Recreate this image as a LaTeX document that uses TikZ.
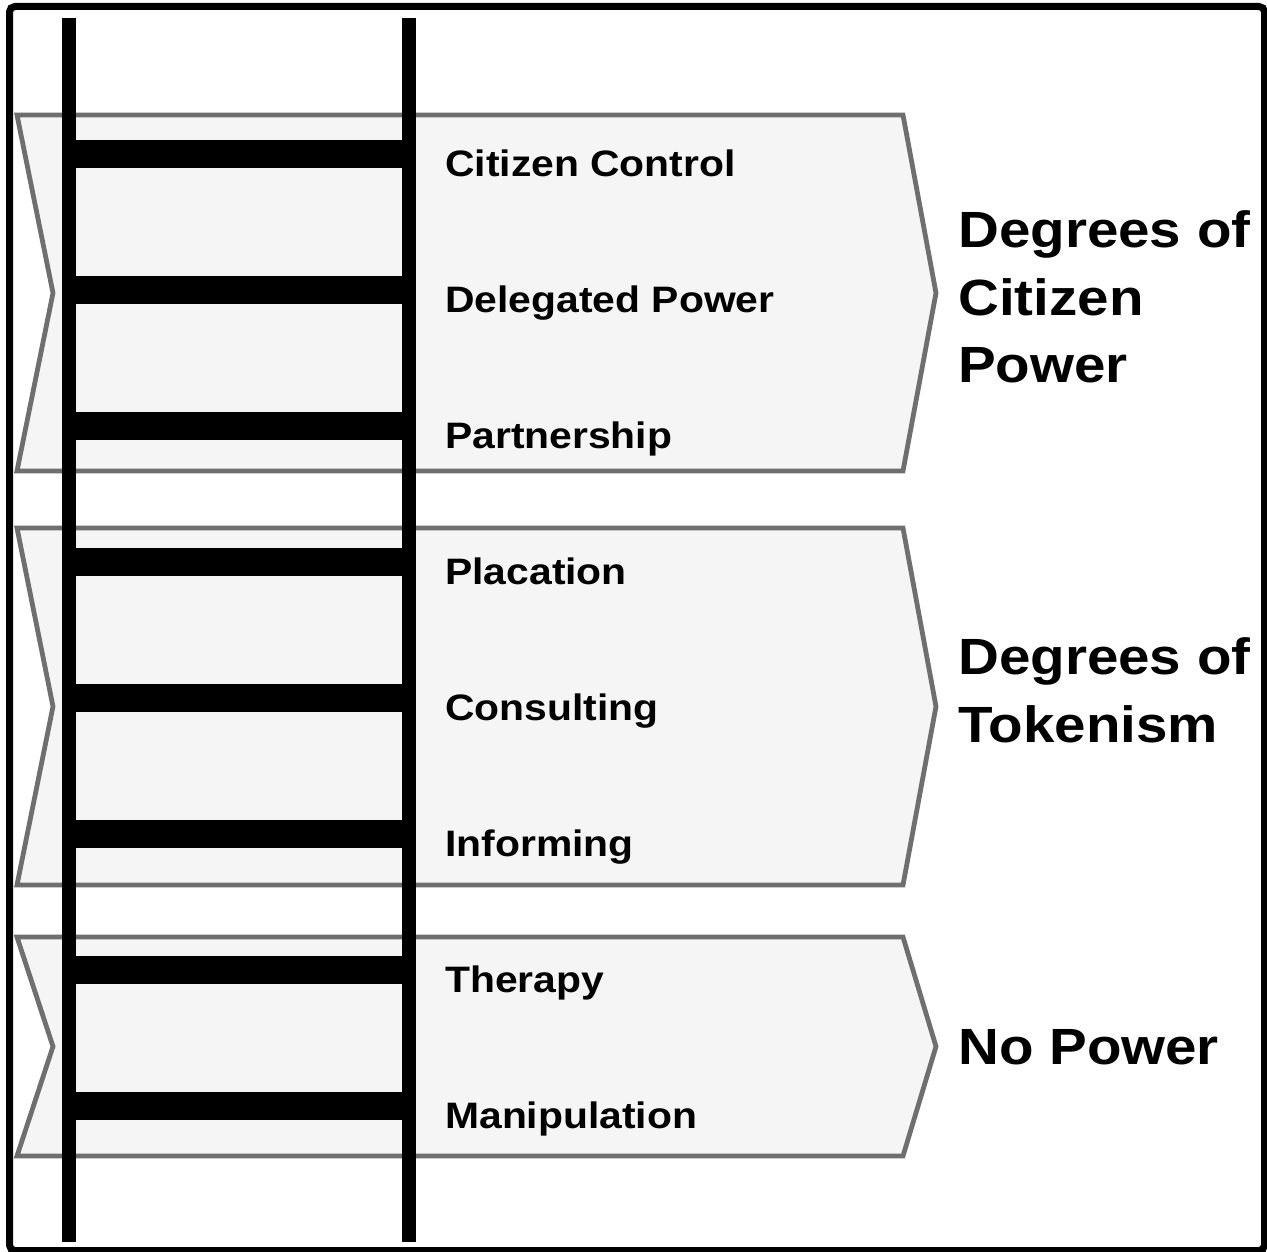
\documentclass[tikz,border=0pt]{standalone}
\usepackage{fontspec}
\usepackage{tikz}
\usetikzlibrary{positioning}
\newfontfamily\ladderfont[FakeStretch=1.11]{Liberation Sans}
\definecolor{bandfill}{HTML}{F5F5F5}
\definecolor{bandline}{HTML}{6F6F6F}
\tikzset{x=0.75pt, y=-0.75pt}
\newcommand{\bandshape}[2]{%
	\draw[band] (17,#1) -- (903,#1) -- (936,{(#1+#2)/2}) -- (903,#2) -- (17,#2) -- (53,{(#1+#2)/2}) -- cycle;}

\begin{document}
\begin{tikzpicture}[
		band/.style={draw=bandline, fill=bandfill, line width=3.6pt, line join=miter},
		rail/.style={line width=10.5pt},
		rungbar/.style={line width=20.5pt},
		rungtext/.style={font=\ladderfont\bfseries\fontsize{27.6}{32}\selectfont, inner sep=0pt, anchor=base west},
		nextrung/.style={below=102pt of #1.base west, anchor=base west},
		bandtext/.style={font=\ladderfont\bfseries\fontsize{38.2}{50.5}\selectfont, inner sep=0pt, align=left, anchor=north west}]
			\useasboundingbox (0,0) rectangle (1267,1252);
			\draw[line width=5.25pt, rounded corners=4pt] (9.5,6.5) rectangle (1264.5,1250.5);
			%
			\bandshape{115}{471}
			\bandshape{528}{885}
			\bandshape{937}{1156}
			%
			\draw[rail] (69,18) -- (69,1242);
			\draw[rail] (409,18) -- (409,1242);
			\draw[rungbar] (69,154) -- (409,154);
			\draw[rungbar] (69,290) -- (409,290);
			\draw[rungbar] (69,426) -- (409,426);
			\draw[rungbar] (69,562) -- (409,562);
			\draw[rungbar] (69,698) -- (409,698);
			\draw[rungbar] (69,834) -- (409,834);
			\draw[rungbar] (69,970) -- (409,970);
			\draw[rungbar] (69,1106) -- (409,1106);
			%
			\node (cc) [rungtext] at (445,176) {Citizen Control};
			\node (dp) [rungtext, nextrung=cc] {Delegated Power};
			\node (pa) [rungtext, nextrung=dp] {Partnership};
			\node (pl) [rungtext, nextrung=pa] {Placation};
			\node (co) [rungtext, nextrung=pl] {Consulting};
			\node (in) [rungtext, nextrung=co] {Informing};
			\node (th) [rungtext, nextrung=in] {Therapy};
			\node (ma) [rungtext, nextrung=th] {Manipulation};
			%
			\node (cp) [bandtext] at (958,210.5) {Degrees of\\Citizen\\Power};
			\node (tk) [bandtext] at (958,637.5) {Degrees of\\Tokenism};
			\node (np) [bandtext] at (958,1029.5) {No Power};
\end{tikzpicture}
\end{document}
